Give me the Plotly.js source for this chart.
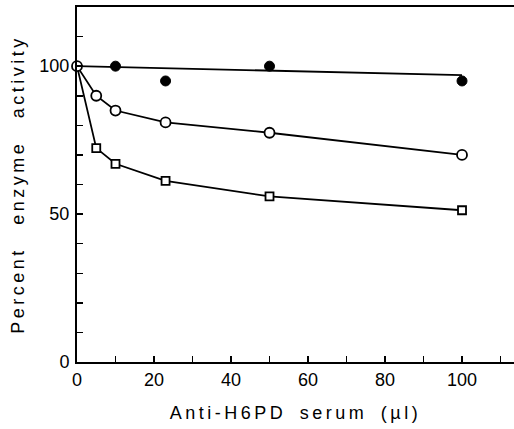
<!DOCTYPE html>
<html>
<head>
<meta charset="utf-8">
<script src="https://cdn.plot.ly/plotly-3.0.1.min.js"></script>
<style>
  html, body { margin: 0; padding: 0; background: #fff; }
  #chart { width: 514px; height: 429px; }
  .xtitle { letter-spacing: 3.5px; word-spacing: 5px; }
  .ytitle { letter-spacing: 3.5px; word-spacing: 14px; }
</style>
</head>
<body>
<div id="chart"></div>
<script>
// Serum volume (µl)
const serumFilled = [10, 23, 50, 100];
const activityFilled = [100, 95, 100, 95];
// fitted line through the filled-circle series
const fitX = [0, 100];
const fitY = [100, 97];

const serumOpen = [0, 5, 10, 23, 50, 100];
const activityOpen = [100, 90, 85, 81, 77.5, 70];

const serumSquare = [0, 5, 10, 23, 50, 100];
const activitySquare = [100, 72.3, 67, 61.2, 56, 51.3];

const xTickVals = [0, 10, 20, 30, 40, 50, 60, 70, 80, 90, 100, 110];
const xTickText = ["0", "", "20", "", "40", "", "60", "", "80", "", "100", ""];
const yTickVals = [0, 10, 20, 30, 40, 50, 60, 70, 80, 90, 100, 110];
const yTickText = ["0", "", "", "", "", "50", "", "", "", "", "100", ""];

const font = "Liberation Sans, Arial, sans-serif";

const traces = [
  {
    x: fitX, y: fitY, mode: "lines", type: "scatter",
    line: { color: "#000", width: 1.8 }, cliponaxis: false, hoverinfo: "skip"
  },
  {
    x: serumSquare, y: activitySquare, mode: "lines", type: "scatter",
    line: { color: "#000", width: 1.8 }, cliponaxis: false
  },
  {
    x: serumOpen, y: activityOpen, mode: "lines", type: "scatter",
    line: { color: "#000", width: 1.8 }, cliponaxis: false
  },
  {
    x: serumSquare.slice(1), y: activitySquare.slice(1), mode: "markers", type: "scatter",
    marker: { symbol: "square", size: 8, color: "#fff", line: { color: "#000", width: 1.8 } },
    cliponaxis: false
  },
  {
    x: serumOpen, y: activityOpen, mode: "markers", type: "scatter",
    marker: { symbol: "circle", size: 10, color: "#fff", line: { color: "#000", width: 1.8 } },
    cliponaxis: false
  },
  {
    x: serumFilled, y: activityFilled, mode: "markers", type: "scatter",
    marker: { symbol: "circle", size: 10, color: "#000", line: { color: "#000", width: 1 } },
    cliponaxis: false
  }
];

const layout = {
  width: 514, height: 429,
  margin: { l: 77, r: 0, t: 7, b: 67, pad: 0 },
  paper_bgcolor: "#fff", plot_bgcolor: "#fff",
  showlegend: false,
  font: { family: font, color: "#000", size: 18 },
  xaxis: {
    range: [0, 113.5],
    tickmode: "array", tickvals: xTickVals, ticktext: xTickText,
    ticks: "inside", ticklen: 6, tickwidth: 1.5, tickcolor: "#000",
    showline: true, linecolor: "#000", linewidth: 2, mirror: true,
    showgrid: false, zeroline: false,
    tickfont: { family: font, size: 18, color: "#000" },
    title: { text: "Anti-H6PD serum (µl)", font: { family: font, size: 18, color: "#000" }, standoff: 18 }
  },
  yaxis: {
    range: [0, 120],
    tickmode: "array", tickvals: yTickVals, ticktext: yTickText,
    ticks: "inside", ticklen: 6, tickwidth: 1.5, tickcolor: "#000",
    showline: true, linecolor: "#000", linewidth: 2, mirror: false,
    showgrid: false, zeroline: false,
    ticklabelstandoff: 2,
    tickfont: { family: font, size: 18, color: "#000" },
    title: { text: "Percent enzyme activity", font: { family: font, size: 18, color: "#000" }, standoff: 10 }
  }
};

Plotly.newPlot("chart", traces, layout, { displayModeBar: false, staticPlot: true });
</script>
</body>
</html>
